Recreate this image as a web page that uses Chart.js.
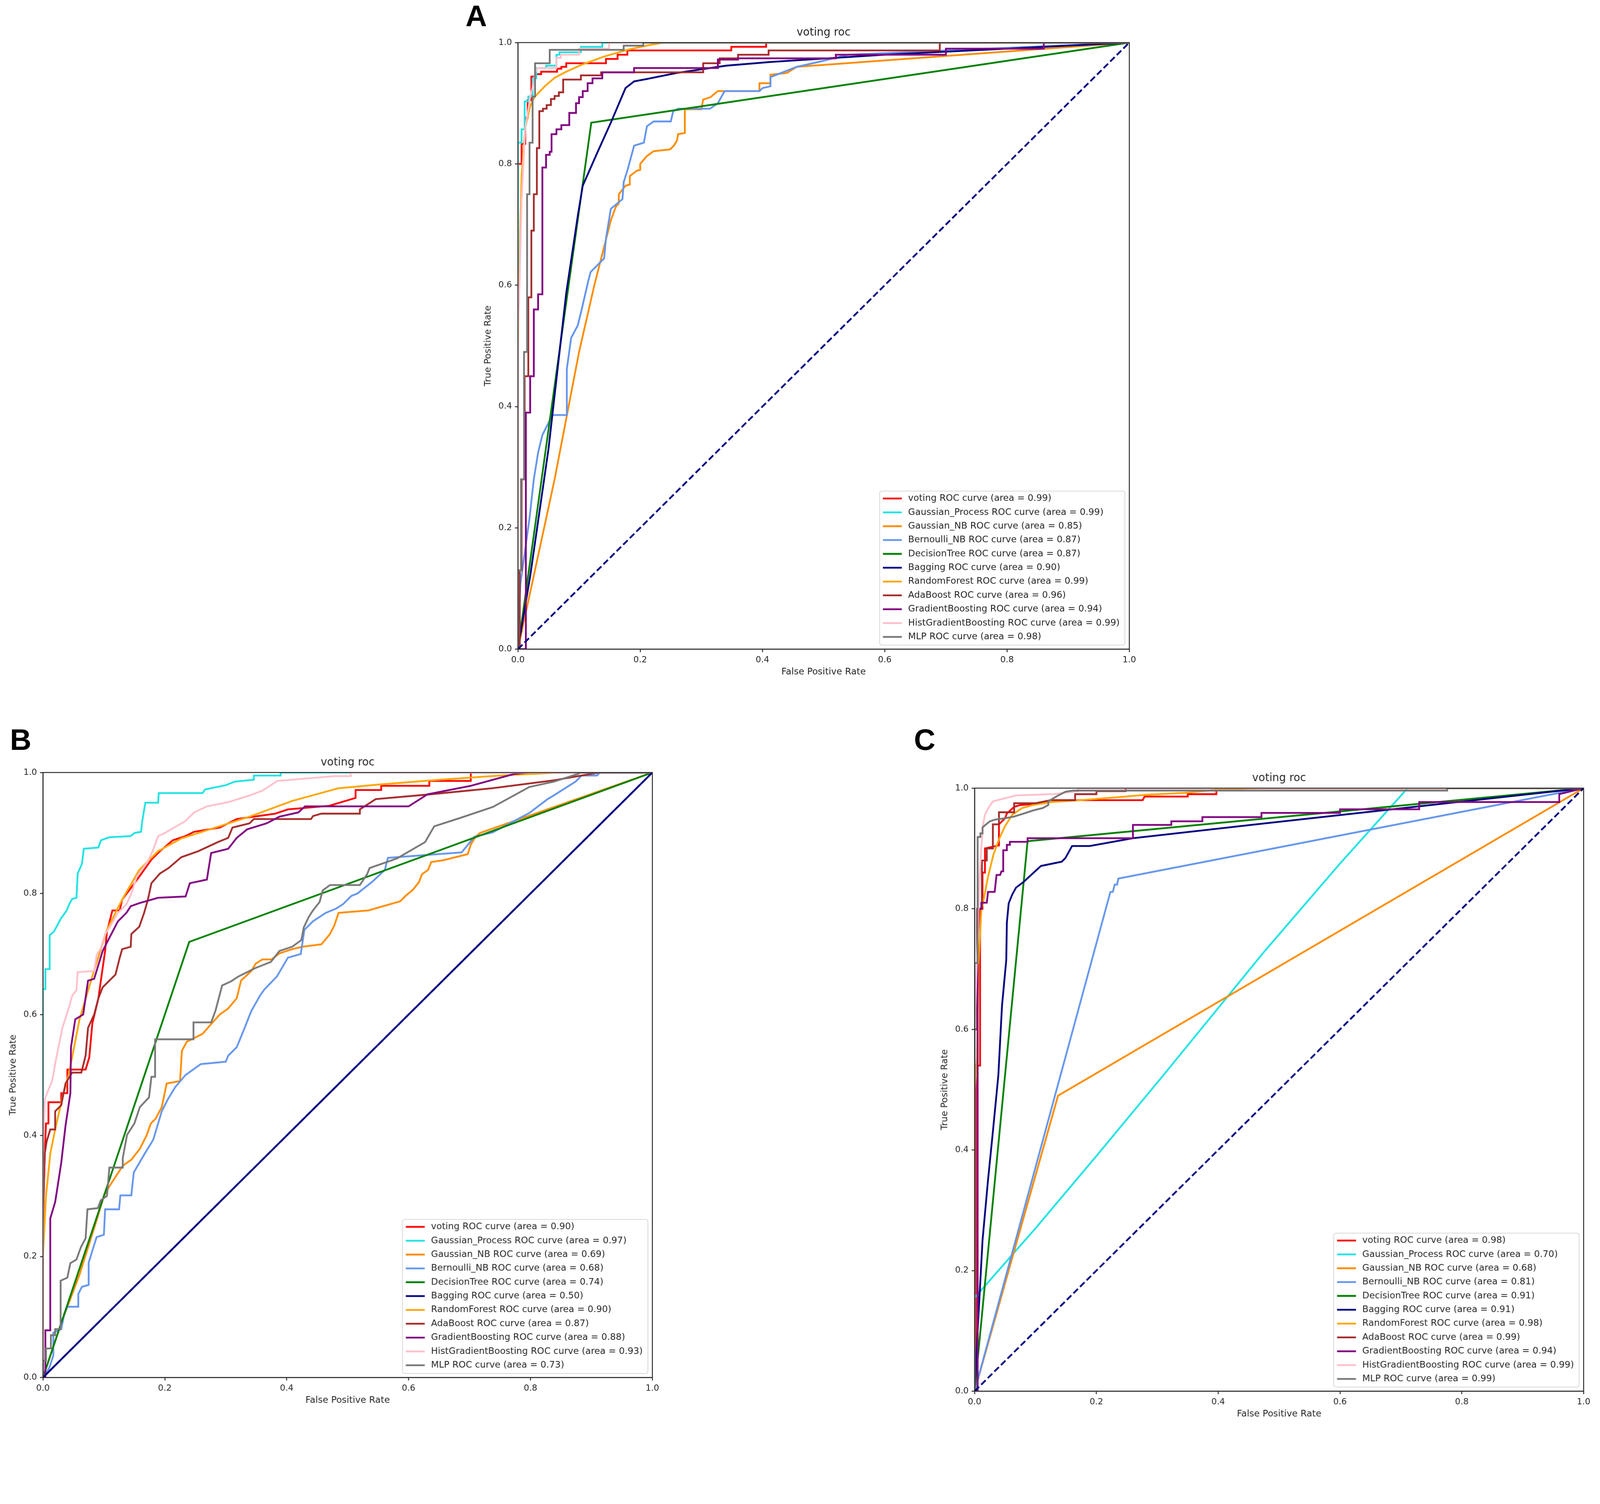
<!DOCTYPE html>
<html>
<head>
<meta charset="utf-8">
<script src="https://cdn.jsdelivr.net/npm/chart.js@4.4.0/dist/chart.umd.min.js"></script>
<style>
  html, body { margin: 0; padding: 0; background: #fff; overflow: hidden; }
  canvas.panel { position: absolute; }
  .tag { position: absolute; font-family: "Liberation Sans", Arial, sans-serif; font-weight: bold; color: #000; }
</style>
</head>
<body>
<div class="tag" id="tagA">A</div>
<div class="tag" id="tagB">B</div>
<div class="tag" id="tagC">C</div>
<canvas id="chartA" class="panel"></canvas>
<canvas id="chartB" class="panel"></canvas>
<canvas id="chartC" class="panel"></canvas>
<script>
// model names / colours shared by all three panels
const modelNames = ['voting', 'Gaussian_Process', 'Gaussian_NB', 'Bernoulli_NB', 'DecisionTree', 'Bagging',
                    'RandomForest', 'AdaBoost', 'GradientBoosting', 'HistGradientBoosting', 'MLP'];
const lineColors = ['#ff0000', '#1fe3e3', '#ff8c00', '#6495ed', '#008000', '#000080',
                    '#ffa500', '#a52a2a', '#800080', '#ffc0cb', '#777777'];
const aucA = ['0.99', '0.99', '0.85', '0.87', '0.87', '0.90', '0.99', '0.96', '0.94', '0.99', '0.98'];
const aucB = ['0.90', '0.97', '0.69', '0.68', '0.74', '0.50', '0.90', '0.87', '0.88', '0.93', '0.73'];
const aucC = ['0.98', '0.70', '0.68', '0.81', '0.91', '0.91', '0.98', '0.99', '0.94', '0.99', '0.99'];
const axisTicks = [0, 0.2, 0.4, 0.6, 0.8, 1.0];
const chanceLine = [[0, 0], [1, 1]];

// ---- panel A: [fpr, tpr] points ----
const aVoting = [[0,0],[0,0.8],[0.006,0.8],[0.006,0.833],[0.012,0.833],[0.012,0.876],[0.016,0.876],[0.016,0.905],[0.022,0.905],[0.022,0.944],[0.03,0.944],[0.03,0.948],[0.038,0.948],[0.038,0.952],[0.064,0.952],[0.064,0.957],[0.071,0.957],[0.071,0.96],[0.079,0.96],[0.079,0.966],[0.144,0.966],[0.144,0.973],[0.163,0.973],[0.163,0.98],[0.179,0.98],[0.179,0.987],[0.349,0.987],[0.349,0.993],[0.406,0.993],[0.406,1],[1,1]];
const aGaussProc = [[0,0],[0,0.835],[0.006,0.835],[0.006,0.857],[0.011,0.857],[0.011,0.903],[0.017,0.903],[0.017,0.911],[0.024,0.911],[0.024,0.941],[0.03,0.941],[0.03,0.958],[0.046,0.958],[0.046,0.962],[0.063,0.962],[0.063,0.98],[0.068,0.98],[0.068,0.984],[0.103,0.984],[0.103,0.993],[0.138,0.993],[0.138,1],[1,1]];
const aGaussNB = [[0,0],[0.06,0.28],[0.1,0.49],[0.125,0.6],[0.152,0.707],[0.16,0.729],[0.165,0.735],[0.165,0.75],[0.176,0.764],[0.183,0.766],[0.183,0.78],[0.195,0.789],[0.2,0.79],[0.2,0.8],[0.211,0.813],[0.222,0.821],[0.249,0.824],[0.255,0.83],[0.26,0.838],[0.262,0.849],[0.273,0.851],[0.273,0.89],[0.3,0.89],[0.303,0.906],[0.315,0.91],[0.327,0.92],[0.395,0.92],[0.395,0.933],[0.413,0.933],[0.413,0.947],[0.44,0.95],[0.456,0.96],[1,1]];
const aBernNB = [[0,0],[0.004,0.107],[0.011,0.158],[0.019,0.216],[0.026,0.28],[0.033,0.324],[0.04,0.353],[0.051,0.375],[0.055,0.386],[0.08,0.386],[0.08,0.462],[0.087,0.513],[0.098,0.534],[0.105,0.563],[0.115,0.607],[0.119,0.622],[0.141,0.644],[0.144,0.677],[0.152,0.726],[0.171,0.742],[0.173,0.77],[0.179,0.789],[0.19,0.83],[0.206,0.835],[0.211,0.862],[0.222,0.87],[0.25,0.87],[0.254,0.887],[0.262,0.891],[0.314,0.891],[0.327,0.9],[0.338,0.92],[0.395,0.92],[0.4,0.925],[0.413,0.928],[0.413,0.943],[0.456,0.96],[0.5,0.97],[0.54,0.98],[1,1]];
const aDecTree = [[0,0],[0.12,0.868],[1,1]];
const aBagging = [[0,0],[0.02,0.12],[0.05,0.33],[0.079,0.587],[0.098,0.715],[0.106,0.764],[0.13,0.819],[0.152,0.868],[0.176,0.925],[0.19,0.936],[0.211,0.94],[0.26,0.95],[0.341,0.962],[0.413,0.968],[0.6,0.98],[0.8,0.99],[1,1]];
const aRandForest = [[0,0],[0,0.5],[0.002,0.6],[0.004,0.7],[0.006,0.78],[0.012,0.86],[0.02,0.895],[0.027,0.91],[0.044,0.928],[0.06,0.942],[0.079,0.952],[0.103,0.963],[0.141,0.977],[0.179,0.988],[0.21,0.995],[0.238,1],[1,1]];
const aAdaBoost = [[0,0],[0.003,0],[0.003,0.13],[0.006,0.13],[0.006,0.28],[0.011,0.28],[0.011,0.45],[0.017,0.45],[0.017,0.58],[0.022,0.58],[0.022,0.69],[0.026,0.69],[0.026,0.75],[0.031,0.75],[0.031,0.826],[0.035,0.826],[0.035,0.887],[0.041,0.887],[0.041,0.891],[0.047,0.891],[0.047,0.897],[0.054,0.897],[0.054,0.907],[0.06,0.907],[0.06,0.912],[0.067,0.912],[0.067,0.918],[0.074,0.918],[0.074,0.939],[0.103,0.939],[0.103,0.946],[0.136,0.946],[0.136,0.951],[0.303,0.951],[0.303,0.966],[0.33,0.966],[0.33,0.974],[0.36,0.974],[0.36,0.98],[0.41,0.98],[0.41,0.987],[0.69,0.987],[0.69,1],[1,1]];
const aGradBoost = [[0,0],[0.013,0],[0.013,0.39],[0.02,0.39],[0.02,0.45],[0.026,0.45],[0.026,0.56],[0.033,0.56],[0.033,0.585],[0.04,0.585],[0.04,0.794],[0.046,0.794],[0.046,0.815],[0.052,0.815],[0.052,0.82],[0.055,0.82],[0.055,0.849],[0.063,0.849],[0.063,0.857],[0.071,0.857],[0.071,0.864],[0.084,0.864],[0.084,0.884],[0.095,0.884],[0.095,0.9],[0.1,0.9],[0.1,0.91],[0.106,0.91],[0.106,0.92],[0.114,0.92],[0.114,0.933],[0.122,0.933],[0.122,0.941],[0.138,0.941],[0.138,0.951],[0.19,0.951],[0.19,0.958],[0.327,0.958],[0.327,0.972],[0.36,0.972],[0.36,0.974],[0.52,0.974],[0.52,0.98],[0.7,0.98],[0.7,0.99],[0.86,0.99],[0.86,1],[1,1]];
const aHistGB = [[0,0],[0,0.52],[0.003,0.62],[0.006,0.74],[0.009,0.8],[0.012,0.86],[0.017,0.89],[0.02,0.91],[0.025,0.93],[0.028,0.95],[0.032,0.958],[0.063,0.958],[0.063,0.975],[0.07,0.975],[0.07,0.98],[0.1,0.98],[0.1,0.99],[0.149,0.99],[0.149,1],[1,1]];
const aMLP = [[0,0],[0,0.13],[0.005,0.13],[0.005,0.28],[0.01,0.28],[0.01,0.49],[0.015,0.49],[0.015,0.75],[0.019,0.75],[0.019,0.835],[0.024,0.835],[0.024,0.911],[0.028,0.911],[0.028,0.966],[0.052,0.966],[0.052,0.988],[0.173,0.988],[0.173,0.995],[0.205,0.995],[0.205,1],[1,1]];

// ---- panel B ----
const bVoting = [[0,0],[0,0.25],[0.003,0.37],[0.005,0.42],[0.009,0.42],[0.009,0.455],[0.03,0.455],[0.03,0.47],[0.04,0.47],[0.04,0.509],[0.07,0.509],[0.076,0.529],[0.081,0.585],[0.091,0.627],[0.095,0.656],[0.102,0.705],[0.105,0.737],[0.114,0.772],[0.126,0.772],[0.13,0.79],[0.145,0.81],[0.161,0.832],[0.178,0.856],[0.192,0.87],[0.213,0.888],[0.234,0.895],[0.248,0.902],[0.29,0.909],[0.318,0.923],[0.381,0.932],[0.402,0.939],[0.47,0.945],[0.513,0.958],[0.513,0.971],[0.555,0.971],[0.555,0.978],[0.634,0.978],[0.634,0.986],[0.702,0.986],[0.702,1],[1,1]];
const bGaussProc = [[0,0],[0,0.642],[0.004,0.642],[0.004,0.675],[0.011,0.675],[0.011,0.731],[0.018,0.737],[0.029,0.758],[0.034,0.765],[0.039,0.772],[0.043,0.782],[0.048,0.791],[0.055,0.793],[0.057,0.833],[0.064,0.849],[0.067,0.874],[0.091,0.876],[0.095,0.888],[0.109,0.893],[0.144,0.895],[0.15,0.9],[0.161,0.902],[0.163,0.92],[0.168,0.95],[0.189,0.95],[0.19,0.966],[0.262,0.966],[0.266,0.972],[0.3,0.979],[0.315,0.985],[0.346,0.988],[0.346,0.995],[0.39,0.995],[0.39,1],[1,1]];
const bGaussNB = [[0,0],[0.03,0.09],[0.06,0.17],[0.088,0.26],[0.1,0.3],[0.109,0.316],[0.131,0.35],[0.145,0.36],[0.159,0.378],[0.17,0.4],[0.177,0.42],[0.185,0.428],[0.195,0.447],[0.203,0.486],[0.225,0.49],[0.228,0.54],[0.236,0.555],[0.262,0.568],[0.274,0.582],[0.283,0.592],[0.29,0.6],[0.304,0.61],[0.318,0.627],[0.325,0.656],[0.342,0.672],[0.349,0.684],[0.36,0.691],[0.375,0.691],[0.388,0.701],[0.409,0.708],[0.426,0.712],[0.457,0.716],[0.471,0.733],[0.478,0.747],[0.485,0.768],[0.534,0.772],[0.586,0.787],[0.596,0.797],[0.607,0.806],[0.617,0.819],[0.622,0.832],[0.632,0.839],[0.637,0.852],[0.657,0.855],[0.697,0.865],[0.702,0.881],[0.71,0.894],[0.717,0.9],[1,1]];
const bBernNB = [[0,0],[0.01,0.015],[0.017,0.036],[0.017,0.074],[0.03,0.08],[0.035,0.105],[0.04,0.117],[0.058,0.117],[0.058,0.138],[0.064,0.15],[0.075,0.153],[0.075,0.19],[0.088,0.232],[0.1,0.236],[0.102,0.278],[0.125,0.278],[0.127,0.301],[0.145,0.301],[0.149,0.339],[0.167,0.37],[0.181,0.393],[0.195,0.44],[0.205,0.46],[0.217,0.48],[0.234,0.5],[0.259,0.518],[0.3,0.522],[0.304,0.532],[0.318,0.546],[0.327,0.568],[0.342,0.606],[0.356,0.631],[0.363,0.641],[0.384,0.663],[0.402,0.694],[0.423,0.7],[0.429,0.74],[0.443,0.754],[0.464,0.768],[0.481,0.775],[0.492,0.782],[0.506,0.796],[0.516,0.8],[0.541,0.82],[0.561,0.839],[0.566,0.859],[0.687,0.868],[0.708,0.894],[0.738,0.901],[0.798,0.933],[0.828,0.956],[0.838,0.962],[0.874,0.985],[0.884,0.995],[0.909,0.995],[0.914,1],[1,1]];
const bDecTree = [[0,0],[0.24,0.72],[1,1]];
const bBagging = [[0,0],[1,1]];
const bRandForest = [[0,0],[0,0.2],[0.005,0.3],[0.012,0.37],[0.02,0.41],[0.032,0.463],[0.043,0.504],[0.06,0.592],[0.081,0.663],[0.105,0.74],[0.13,0.79],[0.158,0.839],[0.189,0.87],[0.227,0.891],[0.339,0.927],[0.409,0.953],[0.485,0.974],[0.55,0.98],[0.65,0.988],[0.75,0.995],[0.849,1],[1,1]];
const bAdaBoost = [[0,0],[0,0.25],[0.003,0.37],[0.006,0.39],[0.012,0.41],[0.02,0.41],[0.02,0.44],[0.03,0.45],[0.037,0.486],[0.048,0.504],[0.063,0.504],[0.07,0.532],[0.074,0.578],[0.084,0.6],[0.091,0.627],[0.098,0.645],[0.109,0.656],[0.119,0.666],[0.126,0.694],[0.13,0.708],[0.144,0.712],[0.145,0.733],[0.158,0.745],[0.166,0.768],[0.172,0.789],[0.178,0.817],[0.192,0.833],[0.206,0.842],[0.227,0.86],[0.255,0.87],[0.287,0.885],[0.304,0.892],[0.311,0.909],[0.339,0.916],[0.346,0.923],[0.44,0.923],[0.443,0.928],[0.457,0.932],[0.52,0.932],[0.52,0.939],[0.546,0.956],[0.636,0.964],[0.737,0.974],[0.838,0.987],[0.878,0.994],[0.913,1],[1,1]];
const bGradBoost = [[0,0],[0.004,0],[0.004,0.078],[0.012,0.078],[0.012,0.263],[0.02,0.29],[0.023,0.309],[0.03,0.355],[0.037,0.416],[0.045,0.47],[0.046,0.546],[0.053,0.592],[0.066,0.6],[0.074,0.656],[0.084,0.659],[0.098,0.705],[0.105,0.719],[0.123,0.754],[0.137,0.768],[0.144,0.779],[0.158,0.784],[0.189,0.793],[0.234,0.795],[0.241,0.817],[0.269,0.823],[0.276,0.867],[0.304,0.874],[0.318,0.892],[0.335,0.906],[0.367,0.916],[0.388,0.927],[0.419,0.934],[0.43,0.944],[0.6,0.944],[0.631,0.964],[0.702,0.978],[0.773,0.9975],[0.795,1],[1,1]];
const bHistGB = [[0,0],[0,0.37],[0.003,0.46],[0.008,0.473],[0.015,0.49],[0.022,0.529],[0.032,0.578],[0.043,0.613],[0.048,0.631],[0.055,0.64],[0.057,0.67],[0.084,0.672],[0.088,0.698],[0.095,0.71],[0.102,0.733],[0.11,0.745],[0.123,0.768],[0.137,0.782],[0.145,0.8],[0.154,0.828],[0.172,0.853],[0.18,0.87],[0.189,0.895],[0.2,0.9],[0.234,0.92],[0.248,0.934],[0.269,0.944],[0.304,0.951],[0.339,0.962],[0.36,0.97],[0.374,0.979],[0.384,0.986],[0.478,0.994],[0.505,0.994],[0.505,1],[1,1]];
const bMLP = [[0,0],[0,0.028],[0.005,0.028],[0.005,0.048],[0.013,0.048],[0.013,0.07],[0.02,0.07],[0.02,0.08],[0.029,0.08],[0.029,0.16],[0.04,0.165],[0.045,0.189],[0.055,0.195],[0.0625,0.216],[0.07,0.23],[0.073,0.278],[0.09,0.28],[0.095,0.293],[0.105,0.3],[0.109,0.347],[0.131,0.347],[0.131,0.363],[0.138,0.401],[0.15,0.42],[0.159,0.447],[0.174,0.463],[0.178,0.497],[0.184,0.497],[0.184,0.559],[0.247,0.559],[0.247,0.587],[0.276,0.587],[0.283,0.606],[0.294,0.648],[0.309,0.655],[0.321,0.663],[0.335,0.67],[0.349,0.677],[0.374,0.687],[0.388,0.705],[0.409,0.712],[0.424,0.723],[0.428,0.744],[0.436,0.761],[0.443,0.772],[0.454,0.786],[0.459,0.805],[0.471,0.814],[0.52,0.814],[0.532,0.832],[0.536,0.842],[0.581,0.858],[0.627,0.885],[0.642,0.911],[0.682,0.924],[0.738,0.943],[0.798,0.976],[0.839,0.985],[0.879,0.998],[0.881,1],[1,1]];

// ---- panel C ----
const cVoting = [[0,0],[0.002,0],[0.002,0.54],[0.009,0.54],[0.009,0.8],[0.013,0.8],[0.013,0.86],[0.017,0.86],[0.017,0.9],[0.04,0.905],[0.04,0.94],[0.05,0.95],[0.053,0.958],[0.065,0.969],[0.075,0.972],[0.115,0.975],[0.124,0.98],[0.276,0.98],[0.279,0.986],[0.35,0.986],[0.35,0.99],[0.397,0.99],[0.397,1],[1,1]];
const cGaussProc = [[0,0],[0,0.155],[0.1,0.27],[0.2,0.39],[0.31,0.524],[0.474,0.727],[0.6,0.875],[0.711,1],[1,1]];
const cGaussNB = [[0,0],[0.137,0.49],[1,1]];
const cBernNB = [[0,0],[0.223,0.828],[0.227,0.828],[0.23,0.84],[0.234,0.84],[0.236,0.85],[1,1]];
const cDecTree = [[0,0],[0.087,0.912],[1,1]];
const cBagging = [[0,0],[0.005,0.1],[0.013,0.25],[0.022,0.35],[0.03,0.43],[0.039,0.524],[0.045,0.639],[0.052,0.715],[0.053,0.777],[0.056,0.809],[0.062,0.824],[0.068,0.835],[0.081,0.845],[0.096,0.859],[0.109,0.871],[0.143,0.878],[0.149,0.884],[0.16,0.904],[0.189,0.904],[0.26,0.917],[0.471,0.941],[1,1]];
const cRandForest = [[0,0],[0,0.5],[0.004,0.55],[0.006,0.7],[0.011,0.796],[0.016,0.821],[0.022,0.853],[0.031,0.89],[0.04,0.915],[0.05,0.937],[0.062,0.956],[0.078,0.967],[0.096,0.972],[0.127,0.977],[0.174,0.98],[0.236,0.985],[0.282,0.989],[0.344,0.992],[0.406,0.998],[0.474,1],[1,1]];
const cAdaBoost = [[0,0],[0,0.6],[0.004,0.6],[0.004,0.8],[0.012,0.8],[0.012,0.88],[0.02,0.88],[0.02,0.9],[0.03,0.9],[0.03,0.94],[0.04,0.94],[0.04,0.96],[0.065,0.96],[0.065,0.975],[0.1,0.975],[0.125,0.98],[0.165,0.98],[0.165,0.99],[0.2,0.99],[0.2,0.995],[0.248,0.995],[0.248,1],[1,1]];
const cGradBoost = [[0,0],[0.005,0],[0.005,0.8],[0.011,0.8],[0.011,0.81],[0.02,0.81],[0.022,0.828],[0.033,0.828],[0.036,0.856],[0.042,0.856],[0.044,0.862],[0.047,0.862],[0.047,0.897],[0.053,0.897],[0.053,0.906],[0.058,0.906],[0.058,0.911],[0.087,0.911],[0.087,0.917],[0.26,0.917],[0.26,0.939],[0.323,0.939],[0.323,0.945],[0.374,0.945],[0.374,0.952],[0.471,0.952],[0.471,0.959],[0.6,0.959],[0.6,0.965],[0.73,0.965],[0.73,0.977],[0.96,0.977],[0.96,0.99],[1,1]];
const cHistGB = [[0,0],[0,0.6],[0.005,0.75],[0.008,0.85],[0.011,0.9],[0.014,0.94],[0.017,0.956],[0.022,0.966],[0.03,0.978],[0.068,0.988],[0.13,0.99],[0.17,0.995],[0.17,1],[1,1]];
const cMLP = [[0,0],[0,0.71],[0.005,0.71],[0.005,0.919],[0.0095,0.919],[0.0095,0.925],[0.013,0.925],[0.013,0.935],[0.025,0.945],[0.034,0.948],[0.05,0.95],[0.065,0.953],[0.081,0.958],[0.096,0.963],[0.112,0.967],[0.121,0.972],[0.121,0.978],[0.134,0.986],[0.149,0.994],[0.162,0.996],[0.776,0.996],[0.776,1],[1,1]];

const curvesA = [aVoting, aGaussProc, aGaussNB, aBernNB, aDecTree, aBagging, aRandForest, aAdaBoost, aGradBoost, aHistGB, aMLP];
const curvesB = [bVoting, bGaussProc, bGaussNB, bBernNB, bDecTree, bBagging, bRandForest, bAdaBoost, bGradBoost, bHistGB, bMLP];
const curvesC = [cVoting, cGaussProc, cGaussNB, cBernNB, cDecTree, cBagging, cRandForest, cAdaBoost, cGradBoost, cHistGB, cMLP];

// layout is measured in picture pixels (4317 wide); k maps them to css px
const k = window.innerWidth / 4317;
const px = v => v * k;
const PAD_L = 100, PAD_T = 60, PAD_R = 24, PAD_B = 84;
const LINE_W = 4.8;
const TEXT = '#262626';

document.body.style.width = px(4317) + 'px';
document.body.style.height = px(3849) + 'px';
[['tagA', 1256, 3], ['tagB', 27, 1955], ['tagC', 2466, 1955]].forEach(([id, l, t]) => {
  const el = document.getElementById(id);
  el.style.left = px(l) + 'px';
  el.style.top = px(t) + 'px';
  el.style.fontSize = px(80) + 'px';
  el.style.lineHeight = px(80) + 'px';
});

Chart.defaults.font.family = '"DejaVu Sans", sans-serif';
Chart.defaults.color = TEXT;

// frame on all four sides, title and the in-axes legend (matplotlib style)
const rocFrame = {
  id: 'rocFrame',
  afterDatasetsDraw(chart) {
    const { ctx, chartArea: ca } = chart;
    ctx.save();
    ctx.strokeStyle = TEXT;
    ctx.lineWidth = px(2.5);
    ctx.strokeRect(ca.left, ca.top, ca.right - ca.left, ca.bottom - ca.top);

    ctx.fillStyle = TEXT;
    ctx.font = px(29) + 'px "DejaVu Sans"';
    ctx.textAlign = 'center';
    ctx.textBaseline = 'alphabetic';
    ctx.fillText('voting roc', (ca.left + ca.right) / 2, ca.top - px(19));

    const items = chart.data.datasets.filter(d => d.label);
    ctx.font = px(24.5) + 'px "DejaVu Sans"';
    const textW = Math.max(...items.map(d => ctx.measureText(d.label).width));
    const w = textW + px(91), h = px(415);
    const x0 = ca.right - px(12) - w, y0 = ca.bottom - px(11) - h;
    ctx.beginPath();
    ctx.roundRect(x0, y0, w, h, px(6));
    ctx.fillStyle = 'rgba(255,255,255,0.8)';
    ctx.fill();
    ctx.strokeStyle = '#d4d4d4';
    ctx.lineWidth = px(2);
    ctx.stroke();
    ctx.textAlign = 'left';
    ctx.textBaseline = 'middle';
    items.forEach((d, i) => {
      const y = y0 + px(20 + i * 37.3);
      ctx.strokeStyle = d.borderColor;
      ctx.lineWidth = px(LINE_W);
      ctx.beginPath();
      ctx.moveTo(x0 + px(9), y);
      ctx.lineTo(x0 + px(60), y);
      ctx.stroke();
      ctx.fillStyle = TEXT;
      ctx.fillText(d.label, x0 + px(77), y);
    });
    ctx.restore();
  }
};

function axisOpts(titleText, horizontal) {
  return {
    type: 'linear', min: 0, max: 1,
    afterBuildTicks: s => { s.ticks = axisTicks.map(v => ({ value: v })); },
    afterFit: s => { if (horizontal) s.height = px(PAD_B); else s.width = px(PAD_L); },
    ticks: { font: { size: px(23) }, color: TEXT, padding: px(8), callback: v => v.toFixed(1) },
    grid: { display: true, drawOnChartArea: false, drawTicks: true, tickLength: px(8), color: TEXT, lineWidth: px(2.5) },
    border: { display: true, color: TEXT, width: px(2.5) },
    title: { display: true, text: titleText, font: { size: px(24.5) }, color: TEXT,
             padding: horizontal ? { top: 0, bottom: px(7) } : { top: px(5), bottom: 0 } }
  };
}

function drawPanel(id, box, curves, aucs) {
  const canvas = document.getElementById(id);
  const w = px(box.w + PAD_L + PAD_R), h = px(box.h + PAD_T + PAD_B);
  canvas.width = w;
  canvas.height = h;
  canvas.style.width = w + 'px';
  canvas.style.height = h + 'px';
  canvas.style.left = px(box.left - PAD_L) + 'px';
  canvas.style.top = px(box.top - PAD_T) + 'px';

  const datasets = curves.map((pts, i) => ({
    label: `${modelNames[i]} ROC curve (area = ${aucs[i]})`,
    data: pts.map(p => ({ x: p[0], y: p[1] })),
    borderColor: lineColors[i],
    borderWidth: px(LINE_W),
    showLine: true,
    pointRadius: 0,
    tension: 0,
    fill: false,
    order: 20 - i
  }));
  datasets.push({
    label: '',
    data: chanceLine.map(p => ({ x: p[0], y: p[1] })),
    borderColor: '#000080',
    borderWidth: px(LINE_W),
    borderDash: [px(17), px(8)],
    showLine: true,
    pointRadius: 0,
    order: 0
  });

  new Chart(canvas.getContext('2d'), {
    type: 'scatter',
    data: { datasets },
    options: {
      responsive: false,
      animation: false,
      layout: { padding: { left: 0, top: px(PAD_T), right: px(PAD_R), bottom: 0 } },
      plugins: { legend: { display: false }, tooltip: { enabled: false } },
      scales: {
        x: axisOpts('False Positive Rate', true),
        y: axisOpts('True Positive Rate', false)
      }
    },
    plugins: [rocFrame]
  });
}

drawPanel('chartA', { left: 1397, top: 115, w: 1652, h: 1636 }, curvesA, aucA);
drawPanel('chartB', { left: 116, top: 2084, w: 1646, h: 1631 }, curvesB, aucB);
drawPanel('chartC', { left: 2630, top: 2126, w: 1645, h: 1626 }, curvesC, aucC);
</script>
</body>
</html>
